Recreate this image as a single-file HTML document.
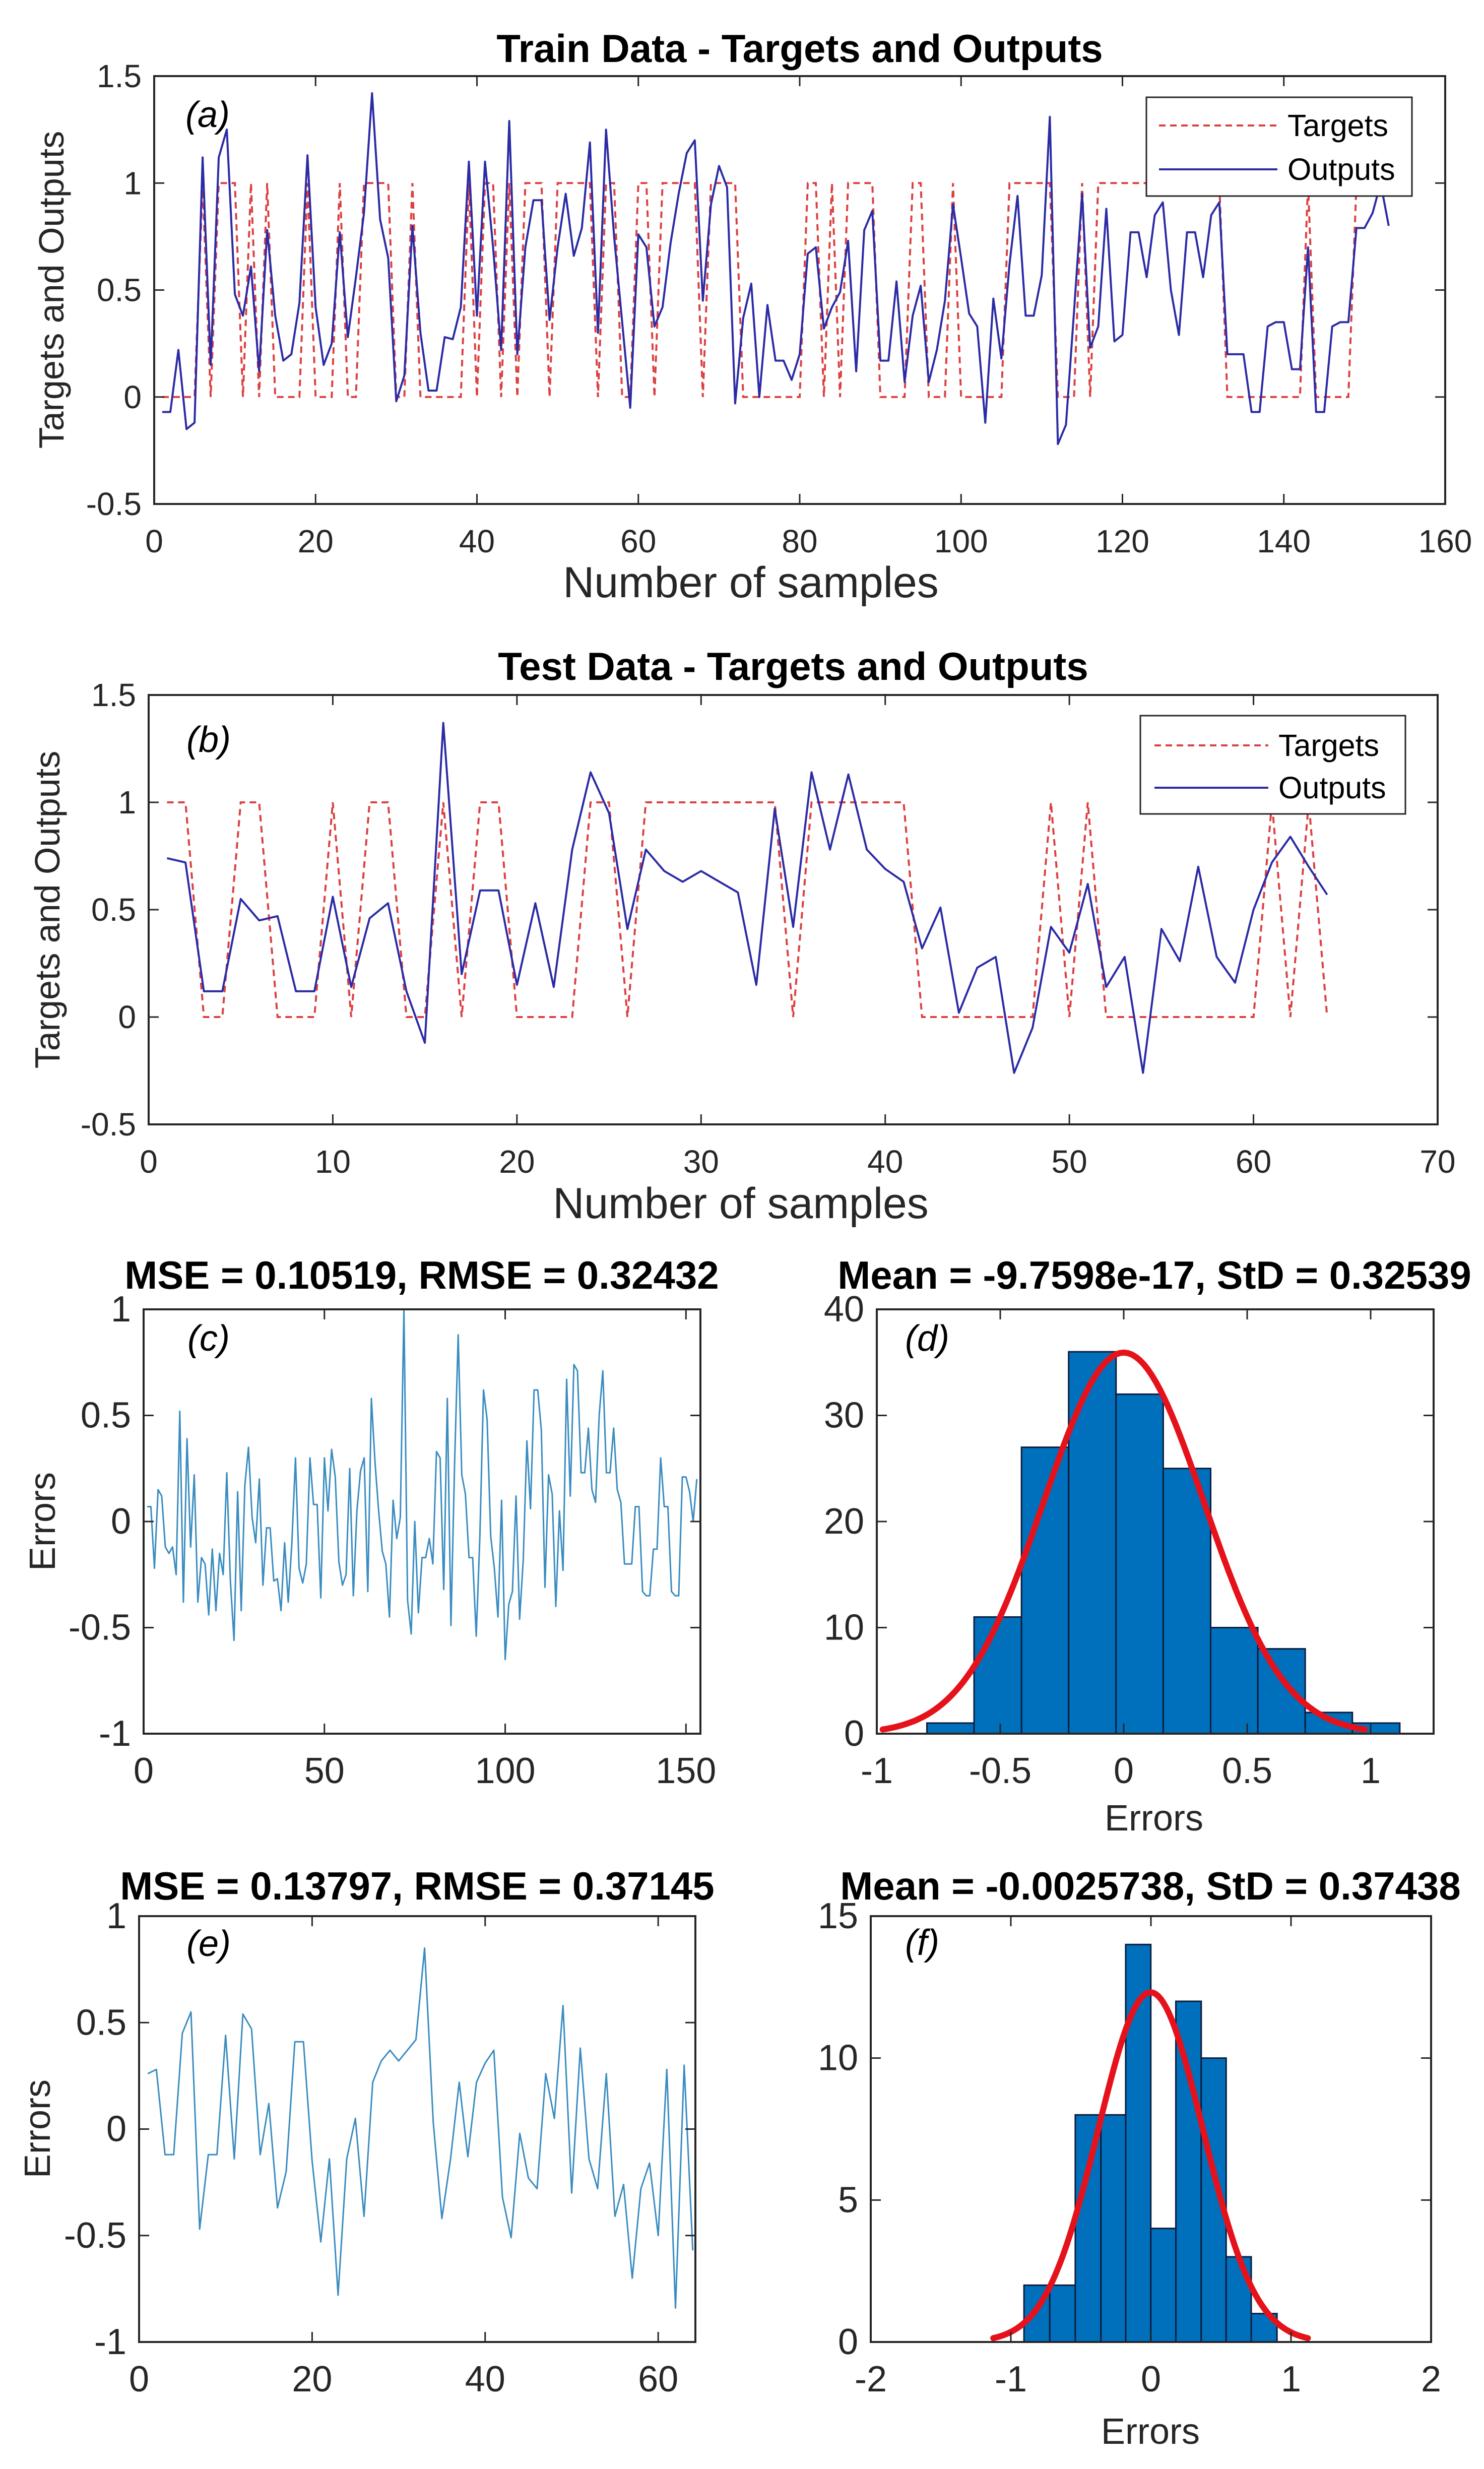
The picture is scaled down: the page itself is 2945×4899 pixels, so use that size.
<!DOCTYPE html>
<html>
<head>
<meta charset="utf-8">
<style>
html,body{margin:0;padding:0;background:#fff;}
svg{display:block;font-family:"Liberation Sans",Arial,sans-serif;}
</style>
</head>
<body>
<svg id="fig" xmlns="http://www.w3.org/2000/svg" width="2945" height="4899" viewBox="0 0 2945 4899">
<rect x="0" y="0" width="2945" height="4899" fill="#ffffff"/>
</svg>
<script>
// ---------- data ----------
const trainTargets = [0,0,0,0,0,1,0,1,1,1,0,1,0,1,0,0,0,0,1,0,0,0,1,0,0,1,1,1,1,0,0,1,0,0,0,0,0,0,1,0,1,1,0,1,0,1,1,1,0,1,1,1,1,1,0,1,1,0,0,1,1,0,1,1,1,1,1,0,1,1,1,1,0,0,0,0,0,0,0,0,1,1,0,1,0,1,1,1,1,0,0,0,0,1,1,0,0,0,1,0,0,0,0,0,0,1,1,1,1,1,1,0,0,0,1,0,1,1,1,1,1,1,1,1,1,1,1,1,1,1,1,1,0,0,0,0,0,0,0,0,0,0,1,0,0,0,0,0,1,1,1,1,1];
const trainOutputs = [-0.07,-0.07,0.22,-0.15,-0.12,1.12,0.15,1.12,1.25,0.48,0.38,0.61,0.12,0.78,0.38,0.17,0.20,0.44,1.13,0.42,0.15,0.25,0.77,0.28,0.56,0.86,1.42,0.83,0.65,-0.02,0.10,0.80,0.30,0.03,0.03,0.28,0.27,0.42,1.10,0.38,1.10,0.70,0.22,1.29,0.20,0.70,0.92,0.92,0.36,0.70,0.95,0.66,0.79,1.19,0.30,1.25,0.75,0.35,-0.05,0.76,0.70,0.33,0.42,0.72,0.95,1.14,1.20,0.45,0.90,1.08,0.98,-0.03,0.37,0.53,0.00,0.43,0.17,0.17,0.08,0.20,0.67,0.70,0.32,0.42,0.49,0.73,0.12,0.78,0.87,0.17,0.17,0.54,0.07,0.38,0.52,0.07,0.22,0.45,0.90,0.65,0.39,0.33,-0.12,0.46,0.18,0.62,0.94,0.38,0.38,0.57,1.31,-0.22,-0.13,0.40,0.95,0.23,0.33,0.88,0.26,0.29,0.77,0.77,0.56,0.85,0.91,0.50,0.29,0.77,0.77,0.56,0.85,0.91,0.20,0.20,0.20,-0.07,-0.07,0.33,0.35,0.35,0.13,0.13,0.70,-0.07,-0.07,0.33,0.35,0.35,0.79,0.79,0.86,1.00,0.80];
const testTargets = [1,1,0,0,1,1,0,0,0,1,0,1,1,0,0,1,0,1,1,0,0,0,0,1,1,0,1,1,1,1,1,1,1,1,0,1,1,1,1,1,1,0,0,0,0,0,0,0,1,0,1,0,0,0,0,0,0,0,0,0,1,0,1,0];
const testOutputs = [0.74,0.72,0.12,0.12,0.55,0.45,0.47,0.12,0.12,0.56,0.14,0.46,0.53,0.12,-0.12,1.37,0.20,0.59,0.59,0.15,0.53,0.14,0.78,1.14,0.95,0.41,0.78,0.68,0.63,0.68,0.63,0.58,0.15,0.97,0.42,1.14,0.78,1.13,0.78,0.69,0.63,0.32,0.51,0.02,0.23,0.28,-0.26,-0.05,0.42,0.30,0.62,0.14,0.28,-0.26,0.41,0.26,0.70,0.28,0.16,0.50,0.72,0.84,0.70,0.57];
const trainErrors = [0.07,0.07,-0.22,0.15,0.12,-0.12,-0.15,-0.12,-0.25,0.52,-0.38,0.39,-0.12,0.22,-0.38,-0.17,-0.20,-0.44,-0.13,-0.42,-0.15,-0.25,0.23,-0.28,-0.56,0.14,-0.42,0.17,0.35,0.02,-0.10,0.20,-0.30,-0.03,-0.03,-0.28,-0.27,-0.42,-0.10,-0.38,-0.10,0.30,-0.22,-0.29,-0.20,0.30,0.08,0.08,-0.36,0.30,0.05,0.34,0.21,-0.19,-0.30,-0.25,0.25,-0.35,0.05,0.24,0.30,-0.33,0.58,0.28,0.05,-0.14,-0.20,-0.45,0.10,-0.08,0.02,1.00,-0.37,-0.53,0.00,-0.43,-0.17,-0.17,-0.08,-0.20,0.33,0.30,-0.32,0.58,-0.49,0.27,0.88,0.22,0.13,-0.17,-0.17,-0.54,-0.07,0.62,0.48,-0.07,-0.22,-0.45,0.10,-0.65,-0.39,-0.33,0.12,-0.46,-0.18,0.38,0.06,0.62,0.62,0.43,-0.31,0.22,0.13,-0.40,0.05,-0.23,0.67,0.12,0.74,0.71,0.23,0.23,0.44,0.15,0.09,0.50,0.71,0.23,0.23,0.44,0.15,0.09,-0.20,-0.20,-0.20,0.07,0.07,-0.33,-0.35,-0.35,-0.13,-0.13,0.30,0.07,0.07,-0.33,-0.35,-0.35,0.21,0.21,0.14,0.00,0.20];
const testErrors = [0.26,0.28,-0.12,-0.12,0.45,0.55,-0.47,-0.12,-0.12,0.44,-0.14,0.54,0.47,-0.12,0.12,-0.37,-0.20,0.41,0.41,-0.15,-0.53,-0.14,-0.78,-0.14,0.05,-0.41,0.22,0.32,0.37,0.32,0.37,0.42,0.85,0.03,-0.42,-0.14,0.22,-0.13,0.22,0.31,0.37,-0.32,-0.51,-0.02,-0.23,-0.28,0.26,0.05,0.58,-0.30,0.38,-0.14,-0.28,0.26,-0.41,-0.26,-0.70,-0.28,-0.16,-0.50,0.28,-0.84,0.30,-0.57];
const trainBinEdges = [-0.797,-0.606,-0.414,-0.223,-0.031,0.160,0.352,0.543,0.735,0.926,1.118];
const trainBinCounts = [1,11,27,36,32,25,10,8,2,1];
const testBinEdges = [-0.906,-0.722,-0.540,-0.357,-0.180,-0.001,0.178,0.359,0.537,0.716,0.900];
const testBinCounts = [2,2,8,8,14,4,12,10,3,1];
const trainStats = [-9.7598e-17, 0.32539];
const testStats = [-0.0025738, 0.37438];
const ticksA_x = [0,20,40,60,80,100,120,140,160];
const ticksA_y = [-0.5,0,0.5,1,1.5];
const ticksB_x = [0,10,20,30,40,50,60,70];
const ticksC_x = [0,50,100,150];
const ticksE_x = [0,20,40,60];
const ticksErr_y = [-1,-0.5,0,0.5,1];
const ticksD_x = [-1,-0.5,0,0.5,1];
const ticksD_y = [0,10,20,30,40];
const ticksF_x = [-2,-1,0,1,2];
const ticksF_y = [0,5,10,15];

// ---------- helpers ----------
const NS = 'http://www.w3.org/2000/svg';
const svg = document.getElementById('fig');
function mk(tag, attrs, parent){
  const el = document.createElementNS(NS, tag);
  for (const k in attrs) el.setAttribute(k, attrs[k]);
  (parent || svg).appendChild(el);
  return el;
}
function axes(o){
  const X = v => o.l + (v - o.x0) / (o.x1 - o.x0) * (o.r - o.l);
  const Y = v => o.b - (v - o.y0) / (o.y1 - o.y0) * (o.b - o.t);
  return {X, Y, o};
}
function text(str, x, y, size, opts, name){
  const el = mk('text', Object.assign({x:x, y:y, 'font-size':size, fill:'#262626', 'text-anchor':'middle', 'dominant-baseline':'central'}, opts || {}));
  el.textContent = str;
  
  
  return el;
}
function frame(A, xt, yt, fs, id, fmt){
  const o = A.o;
  const g = mk('g', {});
  
  
  const tl = 20;
  xt.forEach(v => {
    const x = A.X(v);
    const t1 = mk('line', {x1:x, y1:o.b, x2:x, y2:o.b - tl, stroke:'#262626', 'stroke-width':3}, g);
    
    
    const t2 = mk('line', {x1:x, y1:o.t, x2:x, y2:o.t + tl, stroke:'#262626', 'stroke-width':3}, g);
    
    
    text(fmt ? fmt(v) : String(v), x, o.b + 74, fs, {}, id + '-x-tick-label');
  });
  yt.forEach(v => {
    const y = A.Y(v);
    const t1 = mk('line', {x1:o.l, y1:y, x2:o.l + tl, y2:y, stroke:'#262626', 'stroke-width':3}, g);
    
    
    const t2 = mk('line', {x1:o.r, y1:y, x2:o.r - tl, y2:y, stroke:'#262626', 'stroke-width':3}, g);
    
    
    text(String(v), o.l - 25, y, fs, {'text-anchor':'end'}, id + '-y-tick-label');
  });
  const box = mk('rect', {x:o.l, y:o.t, width:o.r - o.l, height:o.b - o.t, fill:'none', stroke:'#262626', 'stroke-width':4}, g);
  
  
}
function clip(A, id){
  const o = A.o;
  const cp = mk('clipPath', {id:'clip-' + id});
  mk('rect', {x:o.l, y:o.t, width:o.r - o.l, height:o.b - o.t}, cp);
  return 'url(#clip-' + id + ')';
}
function seriesPath(A, vals){
  return vals.map((v, i) => (i ? 'L' : 'M') + A.X(i + 1).toFixed(1) + ' ' + A.Y(v).toFixed(1)).join(' ');
}
function legend(x1, y1, x2, y2, yT, yO, lx1, lx2, name){
  const g = mk('g', {});
  
  
  const r = mk('rect', {x:x1, y:y1, width:x2 - x1, height:y2 - y1, fill:'#fff', stroke:'#262626', 'stroke-width':3}, g);
  
  
  const l1 = mk('line', {x1:lx1, y1:yT, x2:lx2, y2:yT, stroke:'#dc4040', 'stroke-width':4, 'stroke-dasharray':'13,9'}, g);
  
  
  const l2 = mk('line', {x1:lx1, y1:yO, x2:lx2, y2:yO, stroke:'#2b2ba6', 'stroke-width':4}, g);
  
  
  text('Targets', lx2 + 20, yT, 61, {'text-anchor':'start', fill:'#000'}, name + '-targets-label');
  text('Outputs', lx2 + 20, yO, 61, {'text-anchor':'start', fill:'#000'}, name + '-outputs-label');
}
function tsPlot(A, targets, outputs, id){
  const cp = clip(A, id);
  const p1 = mk('path', {d:seriesPath(A, targets), fill:'none', stroke:'#dc4040', 'stroke-width':4, 'stroke-dasharray':'13,9', 'clip-path':cp});
  
  
  const p2 = mk('path', {d:seriesPath(A, outputs), fill:'none', stroke:'#2b2ba6', 'stroke-width':4, 'stroke-linejoin':'round', 'clip-path':cp});
  
  
}
function errPlot(A, errs, id){
  const cp = clip(A, id);
  const p = mk('path', {d:seriesPath(A, errs), fill:'none', stroke:'#3a8cc0', 'stroke-width':3, 'stroke-linejoin':'round', 'clip-path':cp});
  
  
}
function histPlot(A, edges, counts, stats, id){
  counts.forEach((c, i) => {
    const x1 = A.X(edges[i]), x2 = A.X(edges[i + 1]);
    const r = mk('rect', {x:x1, y:A.Y(c), width:x2 - x1, height:A.Y(0) - A.Y(c), fill:'#0070bd', stroke:'#0b1d3d', 'stroke-width':3});
    
    
  });
  const n = counts.reduce((a, b) => a + b, 0);
  const w = (edges[edges.length - 1] - edges[0]) / counts.length;
  const mu = stats[0], sd = stats[1];
  let d = '';
  for (let k = 0; k <= 120; k++){
    const x = mu - 3 * sd + 6 * sd * k / 120;
    const y = n * w / (sd * Math.sqrt(2 * Math.PI)) * Math.exp(-0.5 * Math.pow((x - mu) / sd, 2));
    d += (k ? 'L' : 'M') + A.X(x).toFixed(1) + ' ' + A.Y(y).toFixed(1);
  }
  const p = mk('path', {d:d, fill:'none', stroke:'#e5121b', 'stroke-width':12, 'stroke-linecap':'round'});
  
  
}

// ---------- panel (a) ----------
const Aa = axes({l:306, r:2868, t:151, b:1000, x0:0, x1:160, y0:-0.5, y1:1.5});
tsPlot(Aa, trainTargets, trainOutputs, 'train');
frame(Aa, ticksA_x, ticksA_y, 64, 'train');
legend(2275, 193, 2802, 389, 249, 336, 2300, 2535, 'train-legend');
text('Train Data - Targets and Outputs', 1587, 96, 78, {'font-weight':'bold', fill:'#000'}, 'train-title');
text('Number of samples', 1490, 1156, 86, {}, 'train-x-axis-title');
text('Targets and Outputs', 102, 575, 70, {transform:'rotate(-90 102 575)'}, 'train-y-axis-title');
text('(a)', 412, 228, 72, {'font-style':'italic', fill:'#000'}, 'panel-label-a');

// ---------- panel (b) ----------
const Ab = axes({l:295, r:2853, t:1379, b:2231, x0:0, x1:70, y0:-0.5, y1:1.5});
tsPlot(Ab, testTargets, testOutputs, 'test');
frame(Ab, ticksB_x, ticksA_y, 64, 'test');
legend(2263, 1420, 2789, 1615, 1479, 1563, 2291, 2517, 'test-legend');
text('Test Data - Targets and Outputs', 1574, 1322, 78, {'font-weight':'bold', fill:'#000'}, 'test-title');
text('Number of samples', 1470, 2388, 86, {}, 'test-x-axis-title');
text('Targets and Outputs', 94, 1805, 70, {transform:'rotate(-90 94 1805)'}, 'test-y-axis-title');
text('(b)', 414, 1468, 72, {'font-style':'italic', fill:'#000'}, 'panel-label-b');

// ---------- panel (c) ----------
const Ac = axes({l:285, r:1390, t:2598, b:3440, x0:0, x1:154, y0:-1, y1:1});
errPlot(Ac, trainErrors, 'train-err');
frame(Ac, ticksC_x, ticksErr_y, 72, 'train-err');
text('MSE = 0.10519, RMSE = 0.32432', 837, 2530, 78, {'font-weight':'bold', fill:'#000'}, 'train-mse-title');
text('Errors', 85, 3019, 72, {transform:'rotate(-90 85 3019)'}, 'train-err-y-axis-title');
text('(c)', 414, 2656, 72, {'font-style':'italic', fill:'#000'}, 'panel-label-c');

// ---------- panel (d) ----------
const Ad = axes({l:1740, r:2845, t:2598, b:3440, x0:-1, x1:1.255, y0:0, y1:40});
histPlot(Ad, trainBinEdges, trainBinCounts, trainStats, 'train-hist');
frame(Ad, ticksD_x, ticksD_y, 72, 'train-hist');
text('Mean = -9.7598e-17, StD = 0.32539', 2291, 2530, 78, {'font-weight':'bold', fill:'#000'}, 'train-hist-title');
text('Errors', 2290, 3608, 72, {}, 'train-hist-x-axis-title');
text('(d)', 1840, 2656, 72, {'font-style':'italic', fill:'#000'}, 'panel-label-d');

// ---------- panel (e) ----------
const Ae = axes({l:276, r:1380, t:3802, b:4647, x0:0, x1:64.3, y0:-1, y1:1});
errPlot(Ae, testErrors, 'test-err');
frame(Ae, ticksE_x, ticksErr_y, 72, 'test-err');
text('MSE = 0.13797, RMSE = 0.37145', 828, 3742, 78, {'font-weight':'bold', fill:'#000'}, 'test-mse-title');
text('Errors', 75, 4224, 72, {transform:'rotate(-90 75 4224)'}, 'test-err-y-axis-title');
text('(e)', 414, 3857, 72, {'font-style':'italic', fill:'#000'}, 'panel-label-e');

// ---------- panel (f) ----------
const Af = axes({l:1728, r:2840, t:3802, b:4647, x0:-2, x1:2, y0:0, y1:15});
histPlot(Af, testBinEdges, testBinCounts, testStats, 'test-hist');
frame(Af, ticksF_x, ticksF_y, 72, 'test-hist');
text('Mean = -0.0025738, StD = 0.37438', 2283, 3742, 78, {'font-weight':'bold', fill:'#000'}, 'test-hist-title');
text('Errors', 2283, 4825, 72, {}, 'test-hist-x-axis-title');
text('(f)', 1830, 3855, 72, {'font-style':'italic', fill:'#000'}, 'panel-label-f');
</script>
</body>
</html>
